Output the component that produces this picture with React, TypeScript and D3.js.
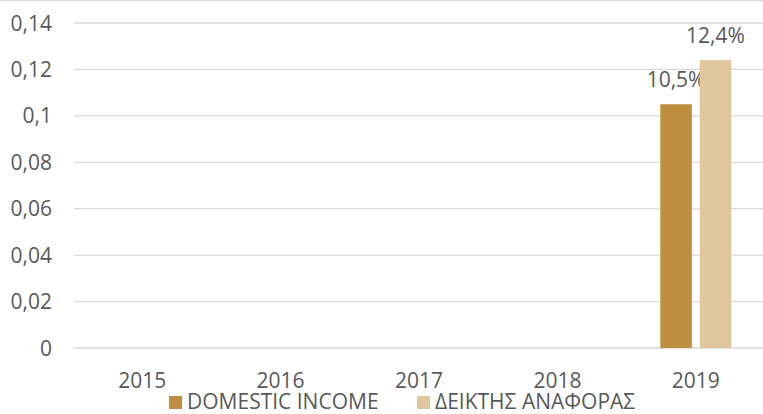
import React from "react";
import * as d3 from "d3";

const categories = ["2015", "2016", "2017", "2018", "2019"];
const domesticIncome: (number | null)[] = [null, null, null, null, 0.105];
const referenceIndex: (number | null)[] = [null, null, null, null, 0.124];
const seriesNames = ["DOMESTIC INCOME", "ΔΕΙΚΤΗΣ ΑΝΑΦΟΡΑΣ"];
const yTicks = [0, 0.02, 0.04, 0.06, 0.08, 0.1, 0.12, 0.14];

const W = 763;
const H = 414;
const colors = ["#BF8F40", "#DFC69C"];
const textColor = "#595959";
const gridColor = "#D9D9D9";
const font = "'Open Sans', 'Liberation Sans', sans-serif";
const fs = 21;

export default function App() {
  const x = d3.scaleBand<string>().domain(categories).range([73, 765]).paddingInner(0).paddingOuter(0);
  const y = d3.scaleLinear().domain([0, 0.14]).range([348, 23]);
  const inner = d3.scaleBand<number>().domain([0, 1]).range([-35.5, 35.5]).paddingInner(0.2);
  const series = [domesticIncome, referenceIndex];
  const fmtTick = (v: number) => String(+v.toFixed(2)).replace(".", ",");
  const fmtPct = (v: number) => (v * 100).toFixed(1).replace(".", ",") + "%";

  return (
    <div style={{ position: "fixed", left: 0, top: 0 }}>
      <svg width={W} height={H} style={{ display: "block", fontFamily: font }}>
        <rect x={0} y={0} width={W} height={H} fill="#fff" />
        <line x1={0} x2={W} y1={0.5} y2={0.5} stroke={gridColor} strokeWidth={1.5} />
        {yTicks.map((t) => (
          <g key={t}>
            <line x1={74} x2={W} y1={y(t)} y2={y(t)} stroke={gridColor} strokeWidth={1.3} />
            <text x={52} y={y(t)} dy="0.36em" textAnchor="end" fontSize={fs} fill={textColor}>
              {fmtTick(t)}
            </text>
          </g>
        ))}
        {categories.map((c) => (
          <text key={c} x={x(c)! + x.bandwidth() / 2} y={380} dy="0.36em" textAnchor="middle" fontSize={fs} fill={textColor}>
            {c}
          </text>
        ))}
        {series.map((vals, si) =>
          vals.map((v, i) => {
            if (v == null) return null;
            const cx = x(categories[i])! + x.bandwidth() / 2 + inner(si)!;
            return (
              <g key={`${si}-${i}`}>
                <rect x={cx} y={y(v)} width={inner.bandwidth()} height={y(0) - y(v)} fill={colors[si]} />
                <text x={cx + inner.bandwidth() / 2} y={y(v) - 17} textAnchor="middle" fontSize={fs} fill={textColor}>
                  {fmtPct(v)}
                </text>
              </g>
            );
          })
        )}
        {seriesNames.map((name, si) => {
          const lx = [169, 417][si];
          return (
            <g key={name}>
              <rect x={lx} y={396} width={13} height={13} fill={colors[si]} />
              <text x={lx + 18} y={409} fontSize={fs} fill={textColor}>
                {name}
              </text>
            </g>
          );
        })}
      </svg>
    </div>
  );
}
